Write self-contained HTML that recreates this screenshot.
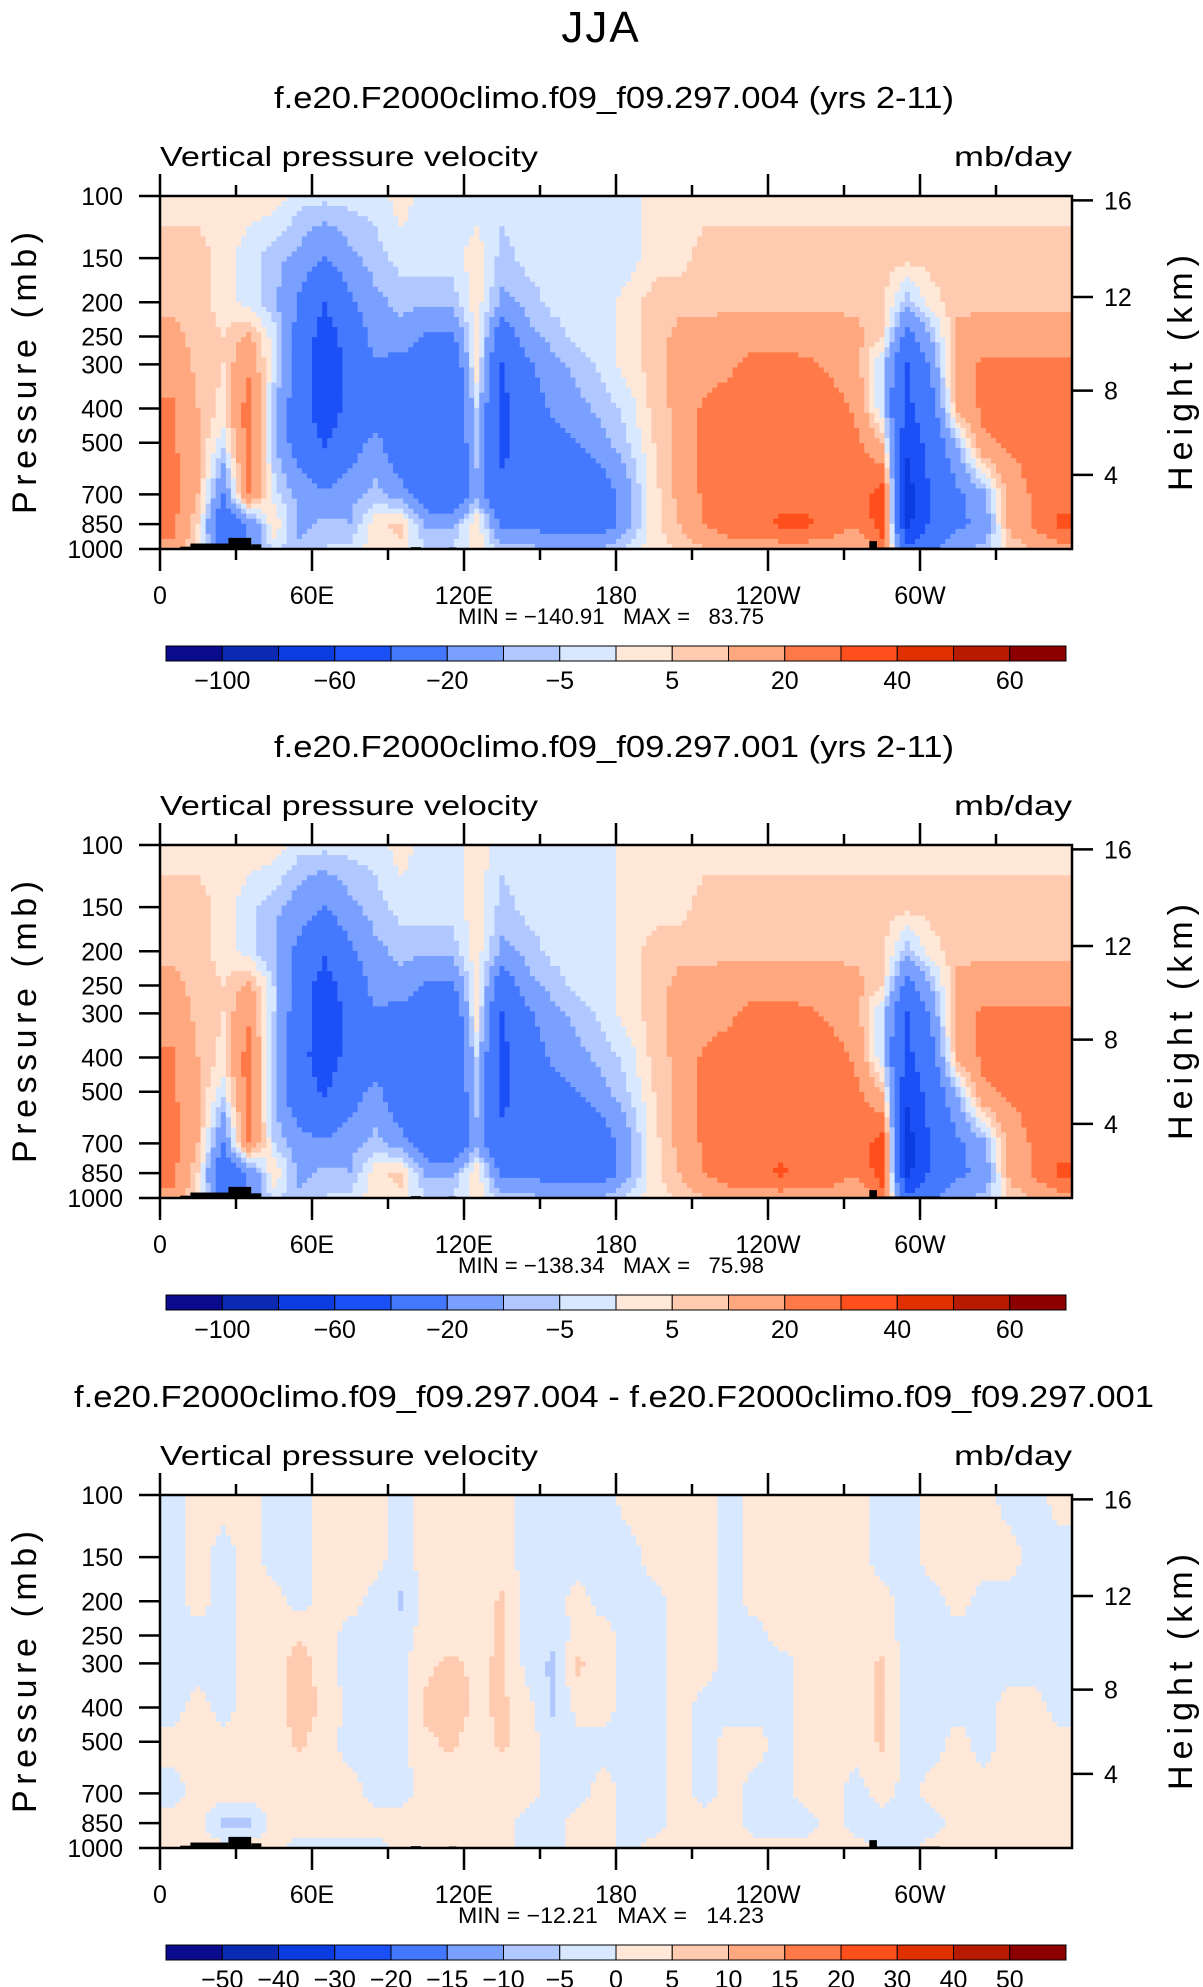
<!DOCTYPE html>
<html><head><meta charset="utf-8"><style>
html,body{margin:0;padding:0;background:#fff;}
svg{display:block;font-family:"Liberation Sans",sans-serif;}
</style></head><body>
<svg id="root" width="1203" height="1987" viewBox="0 0 1203 1987" xmlns="http://www.w3.org/2000/svg">
<text x="601" y="42" text-anchor="middle" font-size="44" font-weight="300" style="letter-spacing:2px">JJA</text>
</svg>
<script>
const levels = [100,150,200,250,300,400,500,700,850,1000];
const lonCenters = [5,15,25,35,45,55,65,75,85,95,105,115,125,135,145,155,165,175,185,195,205,215,225,235,245,255,265,275,285,295,305,315,325,335,345,355];
const lonTickLabels = ["0","60E","120E","180","120W","60W"];
const pressureTickLabels = ["100","150","200","250","300","400","500","700","850","1000"];
const heightTickLabels = ["16","12","8","4"];
const heightTickValues = [16,12,8,4];
const colorBounds12 = [-100,-80,-60,-40,-20,-10,-5,0,5,10,20,30,40,50,60];
const colorBounds3 = [-50,-40,-30,-20,-15,-10,-5,0,5,10,15,20,30,40,50];
const colorBarLabels12 = ["","-100","","-60","","-20","","-5","","5","","20","","40","","60"];
const colorBarLabels3 = ["","-50","-40","-30","-20","-15","-10","-5","0","5","10","15","20","30","40","50"];
const topoStart = [8,12,27,36,99,114,280,283];
const topoEnd = [12,27,36,40,103,117,283,308];
const topoP = [985,965,930,970,988,990,950,990];

const case004 = [
[3,3,3,3,3,-3,-3,-3,-3,3,-3,-3,-3,-3,-3,-3,-3,-3,-3,3,3,3,3,3,3,3,3,3,3,3,3,3,3,3,3,3],
[7,7,3,-3,-8,-12,-20,-12,-7,-3,-3,-3,3,-7,-3,-3,-3,-3,-3,3,3,7,7,7,7,7,7,7,7,7,7,7,7,7,7,7],
[8,7,3,-3,-8,-22,-40,-22,-12,-8,-8,-8,3,-12,-8,-3,-3,-3,3,7,8,8,8,8,8,8,8,8,7,-8,3,8,8,8,8,8],
[12,8,5,12,-3,-25,-50,-30,-15,-12,-22,-22,3,-30,-12,-8,-3,-3,3,7,12,12,15,15,15,15,15,12,5,-25,-8,12,15,15,15,15],
[15,8,5,18,-3,-25,-55,-35,-22,-25,-30,-35,3,-40,-22,-12,-8,-3,3,7,12,15,18,25,25,22,18,12,-5,-40,-15,15,22,22,22,22],
[22,10,3,25,-8,-30,-50,-35,-30,-35,-40,-40,-5,-45,-28,-18,-12,-8,-3,7,12,22,25,25,25,25,25,18,-5,-45,-25,12,22,25,25,25],
[22,10,-3,25,-8,-28,-42,-28,-15,-32,-38,-38,-8,-45,-32,-25,-20,-12,-5,5,12,22,25,25,25,25,25,22,10,-55,-30,-8,18,22,25,25],
[25,10,-20,22,-3,-12,-18,-12,-8,-15,-30,-35,-12,-35,-32,-32,-32,-28,-12,3,12,22,25,25,25,25,25,25,35,-70,-35,-22,-12,12,22,25],
[22,5,-35,-20,5,-12,-8,-10,3,7,-12,-12,5,-22,-22,-28,-28,-28,-12,3,10,20,25,25,32,32,25,22,35,-65,-35,-22,-18,12,22,32],
[18,3,-25,-15,-5,-8,-5,-3,3,3,-5,-5,3,-8,-8,-10,-10,-8,-3,3,5,10,15,15,15,15,15,10,25,-35,-22,-12,-8,5,10,15]
];
const case001 = [
[3,3,3,3,3,-3,-3,-3,-3,3,-3,-3,3,-3,-3,-3,-3,-3,3,3,3,3,3,3,3,3,3,3,3,3,3,3,3,3,3,3],
[7,7,3,-3,-8,-14,-20,-12,-7,-3,-3,-3,3,-7,-3,-3,-3,-3,3,3,3,7,7,7,7,7,7,7,7,7,7,7,7,7,7,7],
[8,7,3,-3,-10,-24,-38,-22,-12,-8,-8,-8,3,-12,-8,-3,-3,-3,3,7,8,8,8,8,8,8,8,8,7,-8,3,8,8,8,8,8],
[12,8,5,12,-5,-30,-48,-30,-15,-12,-22,-22,3,-30,-12,-8,-3,-3,3,7,12,12,15,15,15,15,15,12,5,-25,-8,12,15,15,15,15],
[15,8,5,18,-5,-30,-52,-35,-22,-25,-30,-35,3,-40,-22,-12,-8,-3,3,7,12,15,18,25,25,22,18,12,-5,-40,-15,15,22,22,22,22],
[22,10,3,25,-10,-35,-48,-35,-30,-35,-40,-40,-5,-45,-28,-18,-12,-8,-3,7,12,22,25,25,25,25,25,18,-5,-45,-25,12,22,25,25,25],
[22,10,-3,25,-10,-32,-42,-28,-15,-32,-38,-38,-8,-45,-32,-25,-20,-12,-5,5,12,22,25,25,25,25,25,22,10,-55,-30,-8,18,22,25,25],
[25,10,-20,22,-5,-15,-18,-12,-8,-15,-30,-35,-12,-35,-32,-32,-32,-28,-12,3,12,22,25,28,25,25,25,25,35,-70,-35,-22,-12,12,22,25],
[22,5,-35,-20,5,-12,-8,-10,3,7,-12,-12,5,-22,-22,-28,-28,-28,-12,3,10,20,25,25,32,25,25,22,35,-65,-35,-22,-18,12,22,32],
[18,3,-25,-15,-5,-8,-5,-3,3,3,-5,-5,3,-8,-8,-10,-10,-8,-3,3,5,10,15,15,15,15,15,10,25,-35,-22,-12,-8,5,10,15]
];
// difference field stored by longitude column (top 100mb -> bottom 1000mb)
const diffByLon = [
[-2,-2,-2,-2,-2,-2,2,-2,2,2],
[2,2,2,-2,-2,2,2,2,2,2],
[2,-2,-2,-2,-2,-2,2,2,-6,2],
[2,2,2,2,2,2,2,2,-6,2],
[-2,-2,2,2,2,2,2,2,2,2],
[-2,-2,-2,4,8,8,6,2,2,-2],
[2,2,2,2,2,4,2,2,2,-2],
[2,2,2,-2,-2,-2,-2,2,2,-2],
[2,2,-2,-2,-2,-2,-2,-2,2,-2],
[-2,-2,-6,-2,-2,-2,-2,-2,2,2],
[2,2,2,2,4,6,4,2,2,2],
[2,2,2,2,6,8,6,2,2,2],
[2,2,2,2,4,4,2,2,2,2],
[2,2,6,6,6,6,6,2,2,2],
[-2,-2,-2,-2,-2,2,2,2,-2,-2],
[-2,-2,-2,-4,-6,-6,-2,-2,-2,-2],
[-2,-2,2,2,6,2,-2,-2,2,2],
[-2,-2,-2,2,2,2,-2,2,2,2],
[2,-2,-2,-2,-2,-2,-2,-2,-2,-2],
[2,2,-2,-2,-2,-2,-2,-2,-2,2],
[2,2,2,2,2,2,2,2,2,2],
[2,2,2,2,2,-2,-2,-2,2,2],
[-2,-2,-2,-2,-2,-2,2,2,2,2],
[2,2,2,-2,-2,-2,2,-2,-2,2],
[2,2,2,2,-2,-2,-2,-2,-2,2],
[2,2,2,2,2,2,2,2,-2,2],
[2,2,2,2,2,2,2,2,2,2],
[2,2,2,2,2,2,2,-2,-2,2],
[-2,-2,2,2,6,6,6,2,-2,-2],
[-2,-2,-2,-2,-2,-2,-2,-2,-2,-2],
[2,2,-2,-2,-2,-2,-2,2,-2,2],
[2,2,2,-2,-2,-2,2,2,2,2],
[2,2,-2,-2,-2,-2,-2,2,2,2],
[-2,2,-2,-2,-2,2,2,2,2,2],
[-2,-2,-2,-2,-2,2,2,2,2,2],
[2,-2,-2,-2,-2,-2,2,2,2,2]
];
const diff = levels.map((_,j)=>diffByLon.map(col=>col[j]));
const colors = ["#0a0a8c","#0a2ab4","#0a3ce0","#1a50f5","#4478ff","#7aa0ff","#b0c8ff","#d8e8ff","#ffe8d8","#ffcbb0","#ffa880","#ff7a48","#ff4f1c","#e03000","#b81a00","#8c0000"];

const NS="http://www.w3.org/2000/svg";
const root=document.getElementById('root');
const X0=160,X1=1072,PH=353;
function xOf(lon){return X0+lon/360*(X1-X0);}
function yOf(p,top){return top+(Math.log10(p)-2)*PH;}
function stdP(hkm){const h=hkm*1000;return h<=11000?1013.25*Math.pow(1-2.25577e-5*h,5.25588):226.32*Math.exp(-(h-11000)/6341.6);}
function mk(tag,attrs,parent){const e=document.createElementNS(NS,tag);for(const k in attrs)e.setAttribute(k,attrs[k]);(parent||root).appendChild(e);return e;}
function colorFor(v,b){let i=0;while(i<b.length&&v>=b[i])i++;return colors[i];}
function sample(data,lon,yf){
  let cx=(lon-5)/10;cx=Math.max(0,Math.min(35,cx));
  let i0=Math.floor(cx),i1=Math.min(35,i0+1),fx=cx-i0;
  let ry=Math.max(0,Math.min(9,yf));let j0=Math.floor(ry),j1=Math.min(9,j0+1),fy=ry-j0;
  const a=data[j0][i0]*(1-fx)+data[j0][i1]*fx;
  const c=data[j1][i0]*(1-fx)+data[j1][i1]*fx;
  return a*(1-fy)+c*fy;
}
function panel(top,title,titleLen,data,bounds,barLabels,minmax,idx){
  const g=mk('g',{});
  
  
  const t=mk('text',{x:614,y:top-88,'text-anchor':'middle','font-size':31,textLength:titleLen,lengthAdjust:'spacingAndGlyphs'},g);t.textContent=title;
  
  
  const l=mk('text',{x:160,y:top-30,'font-size':28,'font-weight':'300',textLength:378,lengthAdjust:'spacingAndGlyphs'},g);l.textContent='Vertical pressure velocity';
  
  
  const u=mk('text',{x:954,y:top-30,'font-size':28,'font-weight':'300',textLength:118,lengthAdjust:'spacingAndGlyphs'},g);u.textContent='mb/day';
  
  
  const field=mk('g',{},g);
  
  
  const levY=levels.map(p=>yOf(p,top));
  const NY=70,NX=180;
  for(let r=0;r<NY;r++){
    const ya=top+r*PH/NY,yb=top+(r+1)*PH/NY,ym=(ya+yb)/2;
    let yf=0;
    if(ym<=levY[0])yf=0;else if(ym>=levY[9])yf=9;else{for(let j=0;j<9;j++){if(ym>=levY[j]&&ym<=levY[j+1]){yf=j+(ym-levY[j])/(levY[j+1]-levY[j]);break;}}}
    let c0=0,prev=null;
    for(let c=0;c<=NX;c++){
      let col=null;
      if(c<NX){const lon=(c+0.5)*360/NX;col=colorFor(sample(data,lon,yf),bounds);}
      if(col!==prev){
        if(prev!==null){const cell=mk('rect',{x:xOf(c0*360/NX),y:ya,width:xOf(c*360/NX)-xOf(c0*360/NX)+0.5,height:yb-ya+0.5,fill:prev},field);
        
        }
        c0=c;prev=col;
      }
    }
  }
  for(let k=0;k<topoP.length;k++){
    const yy=yOf(topoP[k],top);
    const tp=mk('rect',{x:xOf(topoStart[k]),y:yy,width:xOf(topoEnd[k])-xOf(topoStart[k]),height:top+PH-yy,fill:'#000'},g);
    
    
  }
  const fr=mk('rect',{x:X0,y:top,width:X1-X0,height:PH,fill:'none',stroke:'#000','stroke-width':2.5},g);
  
  
  for(let k=0;k<12;k++){
    const x=xOf(k*30),maj=k%2===0,len=maj?22:11;
    mk('line',{x1:x,x2:x,y1:top,y2:top-len,stroke:'#000','stroke-width':2.5},g);
    mk('line',{x1:x,x2:x,y1:top+PH,y2:top+PH+len,stroke:'#000','stroke-width':2.5},g);
  }
  lonTickLabels.forEach((s,k)=>{const tx=mk('text',{x:xOf(k*60),y:top+PH+55,'text-anchor':'middle','font-size':25,'font-weight':'300'},g);tx.textContent=s;
    
    });
  levels.forEach((p,k)=>{const y=yOf(p,top);mk('line',{x1:X0-21,x2:X0,y1:y,y2:y,stroke:'#000','stroke-width':2.5},g);
    const tx=mk('text',{x:X0-37,y:y+9,'text-anchor':'end','font-size':25,'font-weight':'300'},g);tx.textContent=pressureTickLabels[k];
    
    });
  heightTickValues.forEach((h,k)=>{const y=yOf(stdP(h),top);
    mk('line',{x1:X1,x2:X1+21,y1:y,y2:y,stroke:'#000','stroke-width':2.5},g);
    const tx=mk('text',{x:X1+32,y:y+9,'font-size':25,'font-weight':'300'},g);tx.textContent=heightTickLabels[k];
    
    });
  const py=mk('text',{x:0,y:0,'font-size':34,'font-weight':'300','text-anchor':'middle',transform:`translate(36,${top+177}) rotate(-90)`,textLength:282,lengthAdjust:'spacing'},g);py.textContent='Pressure  (mb)';
  
  
  const hy=mk('text',{x:0,y:0,'font-size':34,'font-weight':'300','text-anchor':'middle',transform:`translate(1192,${top+177}) rotate(-90)`,textLength:236,lengthAdjust:'spacing'},g);hy.textContent='Height  (km)';
  
  
  const mm=mk('text',{x:611,y:top+PH+75,'text-anchor':'middle','font-size':22,'font-weight':'300',textLength:306,lengthAdjust:'spacingAndGlyphs',style:'white-space:pre'},g);mm.textContent=minmax;
  
  
  const cbY=top+PH+97,w=900/16;
  const cb=mk('g',{},g);
  
  
  colors.forEach((c,k)=>{const b=mk('rect',{x:166+k*w,y:cbY,width:w,height:15,fill:c,stroke:'#000','stroke-width':1},cb);
    
    });
  barLabels.forEach((s,k)=>{if(!s)return;const tx=mk('text',{x:166+k*w,y:cbY+43,'text-anchor':'middle','font-size':25,'font-weight':'300'},cb);tx.textContent=s.replace('-','\u2212');
    
    });
}
panel(196,'f.e20.F2000climo.f09_f09.297.004 (yrs 2-11)',680,case004,colorBounds12,colorBarLabels12,'MIN = \u2212140.91   MAX =   83.75',1);
panel(845,'f.e20.F2000climo.f09_f09.297.001 (yrs 2-11)',680,case001,colorBounds12,colorBarLabels12,'MIN = \u2212138.34   MAX =   75.98',2);
panel(1495,'f.e20.F2000climo.f09_f09.297.004 - f.e20.F2000climo.f09_f09.297.001',1080,diff,colorBounds3,colorBarLabels3,'MIN = \u221212.21   MAX =   14.23',3);
</script>
</body></html>
